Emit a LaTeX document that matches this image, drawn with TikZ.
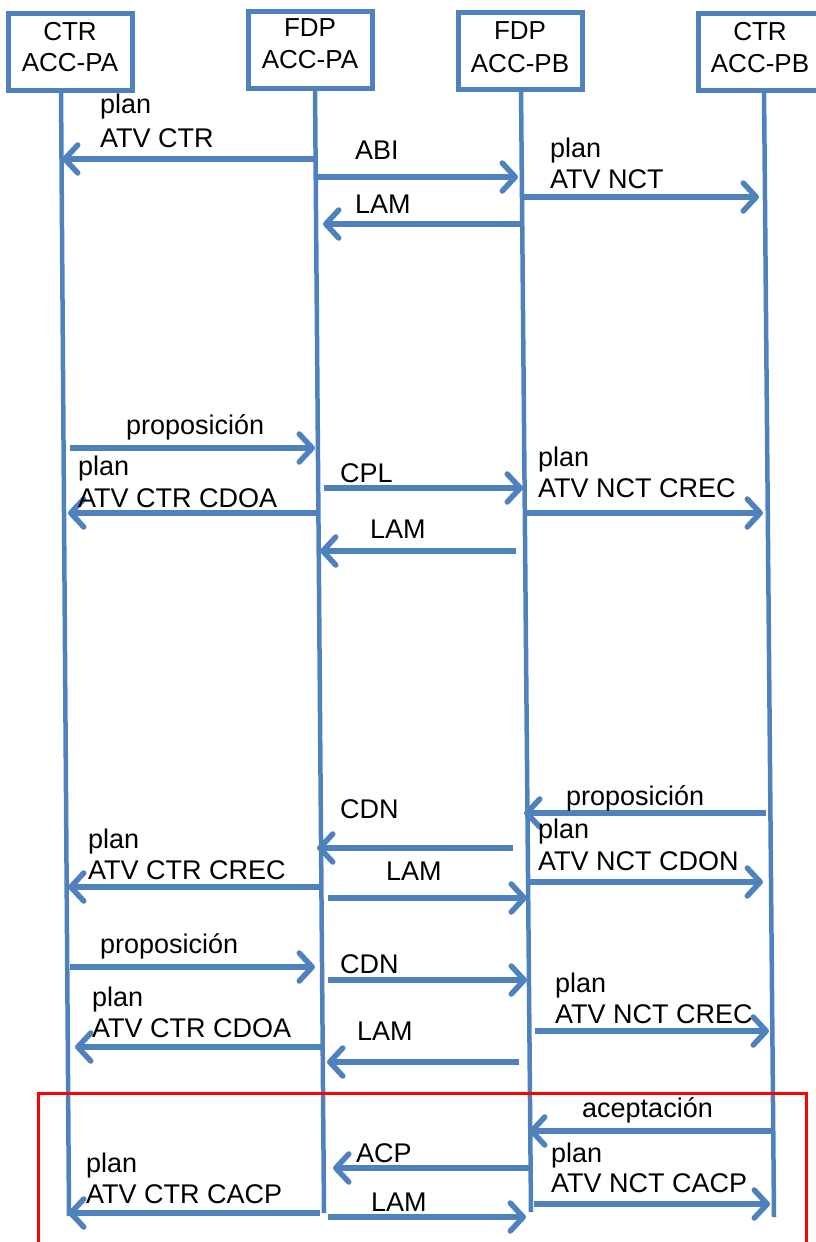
\documentclass[tikz,border=0pt]{standalone}
\usepackage{fontspec}
\setmainfont{Liberation Sans}
\usetikzlibrary{arrows.meta}
\definecolor{lblue}{HTML}{4F81BD}
\definecolor{fred}{HTML}{FF0000}
\newcommand\lbl[4]{\node[lab] (#1) at (#2,#3) {#4};}
\begin{document}
\begin{tikzpicture}[x=1pt,y=-1pt,
  box/.style={draw=lblue, line width=5pt, fill=white, rectangle, minimum width=124pt, minimum height=77pt, inner sep=0pt},
  hdr/.style={anchor=base, inner sep=0pt, font=\fontsize{26}{30}\selectfont},
  lab/.style={anchor=base west, inner sep=0pt, font=\fontsize{27}{31}\selectfont},
  life/.style={draw=lblue, line width=4.5pt},
  msg/.style={draw=lblue, line width=5.5pt, -{Straight Barb[length=13pt, width=28pt, round]}},
  frame/.style={draw=fred, line width=3pt}]
\useasboundingbox (0,0) rectangle (815,1242);

% lifelines
\coordinate (L1t) at (61,88);  \coordinate (L1b) at (69,1216);
\coordinate (L2t) at (315,86); \coordinate (L2b) at (324,1213);
\coordinate (L3t) at (521,86); \coordinate (L3b) at (531,1212);
\coordinate (L4t) at (764,88); \coordinate (L4b) at (774,1217);
\draw[life] (L1t) -- (L1b);
\draw[life] (L2t) -- (L2b);
\draw[life] (L3t) -- (L3b);
\draw[life] (L4t) -- (L4b);

% header boxes
\node[box] (B1) at (70,51.5) {};
\node[box] (B2) at (310,50) {};
\node[box] (B3) at (520,51) {};
\node[box] (B4) at (760,51.5) {};
\node[hdr] (B1a) at (70,40) {CTR};
\node[hdr] (B1b) at (70,71) {ACC-PA};
\node[hdr] (B2a) at (310,36) {FDP};
\node[hdr] (B2b) at (310,68) {ACC-PA};
\node[hdr] (B3a) at (520,39) {FDP};
\node[hdr] (B3b) at (520,72) {ACC-PB};
\node[hdr] (B4a) at (760,40) {CTR};
\node[hdr] (B4b) at (760,72) {ACC-PB};

% red frame
\coordinate (Ftl) at (38,1093);
\coordinate (Fbr) at (806,1260);
\draw[frame] (Ftl |- Fbr) -- (Ftl) -- (Ftl -| Fbr) -- (Fbr);

% messages
\draw[msg] (315,159) coordinate (m1a) -- (62,159) coordinate (m1b);
\lbl{t1a}{100}{113}{plan} \lbl{t1b}{100}{147}{ATV CTR}
\draw[msg] (318,177) coordinate (m2a) -- (518,177) coordinate (m2b);
\lbl{t2}{355}{159}{ABI}
\draw[msg] (524,197) coordinate (m3a) -- (759,197) coordinate (m3b);
\lbl{t3a}{550}{157}{plan} \lbl{t3b}{550}{188}{ATV NCT}
\draw[msg] (520,224) coordinate (m4a) -- (323,224) coordinate (m4b);
\lbl{t4}{355}{213}{LAM}

\draw[msg] (70,448) coordinate (m5a) -- (315,448) coordinate (m5b);
\lbl{t5}{126}{434}{proposición}
\draw[msg] (320,513) coordinate (m6a) -- (68,513) coordinate (m6b);
\lbl{t6a}{78}{475}{plan} \lbl{t6b}{78}{507}{ATV CTR CDOA}
\draw[msg] (324,488) coordinate (m7a) -- (523,488) coordinate (m7b);
\lbl{t7}{340}{482}{CPL}
\draw[msg] (527,513) coordinate (m8a) -- (763,513) coordinate (m8b);
\lbl{t8a}{538}{466}{plan} \lbl{t8b}{538}{497}{ATV NCT CREC}
\draw[msg] (516,551) coordinate (m9a) -- (320,551) coordinate (m9b);
\lbl{t9}{370}{538}{LAM}

\draw[msg] (766,813) coordinate (m10a) -- (524,813) coordinate (m10b);
\lbl{t10}{566}{805}{proposición}
\draw[msg] (513,848) coordinate (m11a) -- (317,848) coordinate (m11b);
\lbl{t11}{340}{818}{CDN}
\draw[msg] (322,887) coordinate (m12a) -- (68,887) coordinate (m12b);
\lbl{t12a}{88}{848}{plan} \lbl{t12b}{88}{879}{ATV CTR CREC}
\draw[msg] (328,898) coordinate (m13a) -- (527,898) coordinate (m13b);
\lbl{t13}{386}{880}{LAM}
\draw[msg] (528,882) coordinate (m14a) -- (763,882) coordinate (m14b);
\lbl{t14a}{538}{838}{plan} \lbl{t14b}{538}{870}{ATV NCT CDON}

\draw[msg] (70,967) coordinate (m15a) -- (315,967) coordinate (m15b);
\lbl{t15}{100}{953}{proposición}
\draw[msg] (328,980) coordinate (m16a) -- (527,980) coordinate (m16b);
\lbl{t16}{340}{973}{CDN}
\draw[msg] (535,1031) coordinate (m17a) -- (769,1031) coordinate (m17b);
\lbl{t17a}{555}{992}{plan} \lbl{t17b}{555}{1023}{ATV NCT CREC}
\draw[msg] (325,1047) coordinate (m18a) -- (75,1047) coordinate (m18b);
\lbl{t18a}{92}{1006}{plan} \lbl{t18b}{92}{1037}{ATV CTR CDOA}
\draw[msg] (519,1062) coordinate (m19a) -- (327,1062) coordinate (m19b);
\lbl{t19}{357}{1040}{LAM}

\draw[msg] (772,1131) coordinate (m20a) -- (529,1131) coordinate (m20b);
\lbl{t20}{582}{1117}{aceptación}
\draw[msg] (530,1168) coordinate (m21a) -- (333,1168) coordinate (m21b);
\lbl{t21}{356}{1162}{ACP}
\draw[msg] (320,1213) coordinate (m22a) -- (68,1213) coordinate (m22b);
\lbl{t22a}{86}{1172}{plan} \lbl{t22b}{86}{1203}{ATV CTR CACP}
\draw[msg] (328,1217) coordinate (m23a) -- (526,1217) coordinate (m23b);
\lbl{t23}{371}{1211}{LAM}
\draw[msg] (534,1204) coordinate (m24a) -- (770,1204) coordinate (m24b);
\lbl{t24a}{551}{1162}{plan} \lbl{t24b}{551}{1192}{ATV NCT CACP}
\end{tikzpicture}
\end{document}
